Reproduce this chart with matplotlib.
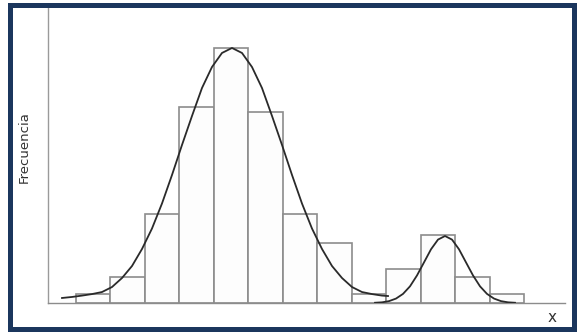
import numpy as np
import matplotlib.pyplot as plt
from matplotlib.patches import Rectangle

# class intervals (unit width) and their frequencies
bin_left = np.arange(13)
freq = [1, 3, 10.5, 23, 30, 22.5, 10.5, 7, 1, 4, 8, 3, 1]

# fitted curve for the main mode
curve1_x = [-0.406, -0.116, 0.174, 0.464, 0.754, 1.045, 1.335, 1.625, 1.915,
            2.205, 2.495, 2.786, 3.076, 3.366, 3.656, 3.946, 4.236, 4.527,
            4.817, 5.107, 5.397, 5.688, 5.978, 6.268, 6.558, 6.848, 7.139,
            7.429, 7.719, 8.009, 8.299, 8.590, 8.880, 9.054]
curve1_y = [0.59, 0.71, 0.87, 1.05, 1.29, 1.88, 2.94, 4.35, 6.35,
            8.76, 11.7, 15.06, 18.59, 22.0, 25.29, 27.76, 29.41, 30.0,
            29.41, 27.76, 25.29, 22.0, 18.59, 15.06, 11.7, 8.76, 6.35,
            4.35, 2.94, 1.88, 1.29, 1.05, 0.87, 0.82]

# fitted curve for the small second mode
curve2_x = [8.677, 8.880, 9.083, 9.286, 9.489, 9.692, 9.895, 10.099, 10.302,
            10.505, 10.708, 10.911, 11.114, 11.317, 11.521, 11.724, 11.927,
            12.130, 12.333, 12.536, 12.739]
curve2_y = [0.03, 0.08, 0.22, 0.52, 1.07, 1.96, 3.24, 4.78, 6.32,
            7.46, 7.88, 7.46, 6.32, 4.78, 3.24, 1.96, 1.07,
            0.52, 0.22, 0.08, 0.03]

W, H = 577, 332
fig = plt.figure(figsize=(W / 100, H / 100), dpi=100)
fig.patch.set_facecolor("white")

ax = fig.add_axes([48 / W, (H - 303) / H, (565 - 48) / W, (303 - 8) / H])
ax.bar(bin_left, freq, width=1, align="edge", facecolor="#fdfdfd",
       edgecolor="#8c8c8c", linewidth=1.2, zorder=2)
ax.plot(curve1_x, curve1_y, color="#2a2a2a", linewidth=1.3, zorder=3,
        solid_joinstyle="round")
ax.plot(curve2_x, curve2_y, color="#2a2a2a", linewidth=1.3, zorder=3,
        solid_joinstyle="round")

ax.set_xlim(-0.8125, 14.19)
ax.set_ylim(0, 34.7)
ax.set_xticks([])
ax.set_yticks([])
for side in ("top", "right"):
    ax.spines[side].set_visible(False)
ax.spines["left"].set_color("#9a9a9a")
ax.spines["bottom"].set_color("#8c8c8c")
ax.spines["left"].set_linewidth(1.0)
ax.spines["bottom"].set_linewidth(1.0)

fig.text(24 / W, 1 - 147 / H, "Frecuencia", rotation=90, fontsize=9.5,
         color="#333333", ha="center", va="center")
fig.text(552 / W, 1 - 317 / H, "x", fontsize=11, color="#333333",
         ha="center", va="center")

# dark frame around the picture
navy = "#1b365d"
for x0, y0, w, h in [(8, 3, 569, 5), (8, 327, 569, 5), (8, 3, 5, 329), (572, 3, 5, 329)]:
    fig.add_artist(Rectangle((x0 / W, 1 - (y0 + h) / H), w / W, h / H,
                             transform=fig.transFigure, facecolor=navy,
                             edgecolor="none"))

fig.savefig("out.png", dpi=100)
